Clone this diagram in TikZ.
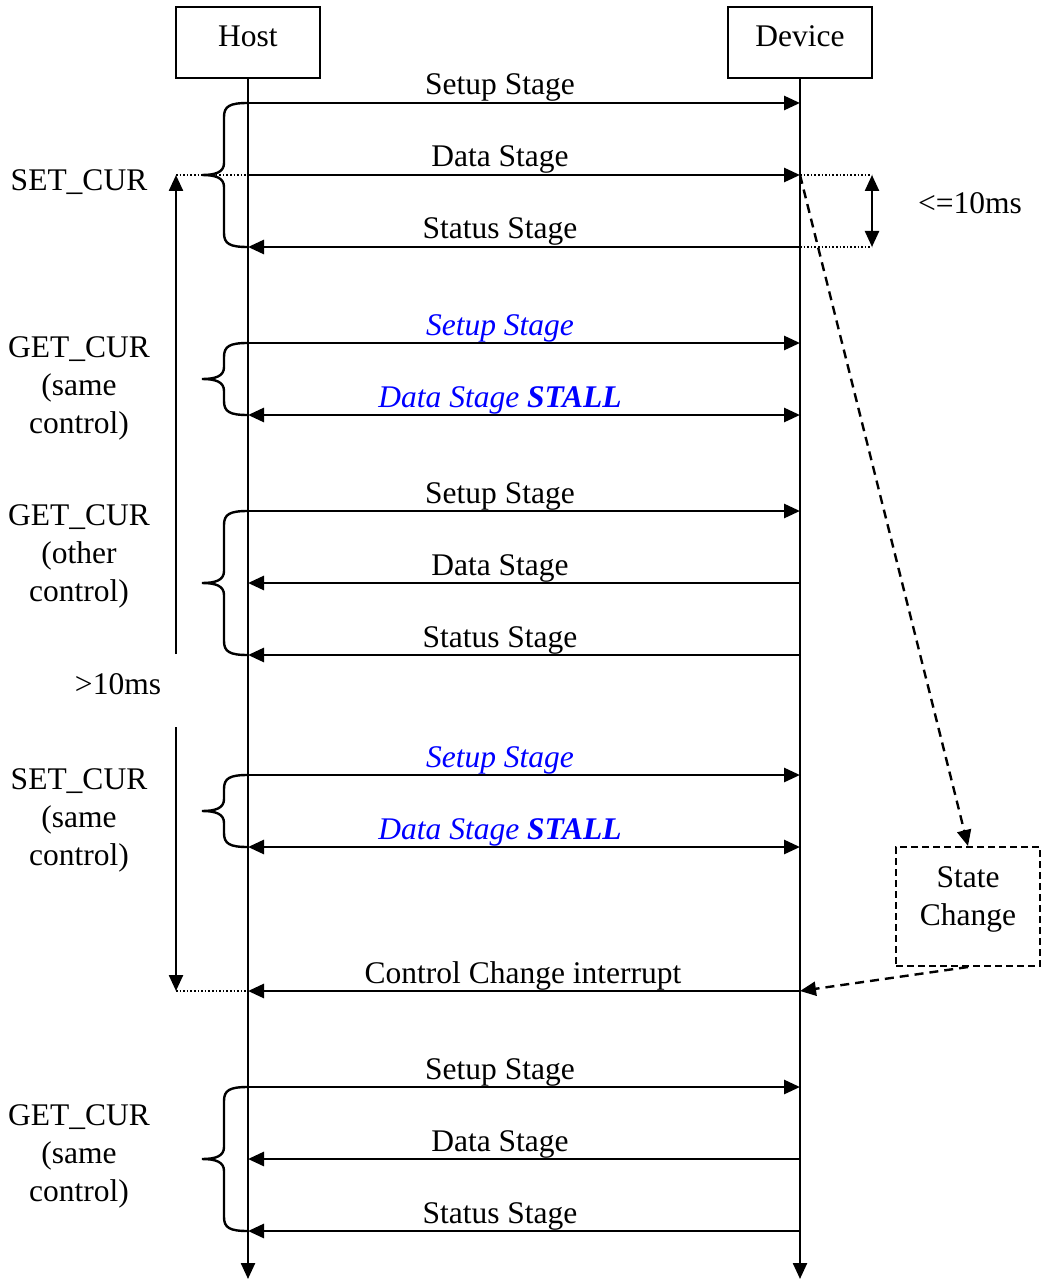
\documentclass[tikz,border=0pt]{standalone}
\usepackage{fontspec}
\setmainfont{Liberation Serif}
\usetikzlibrary{arrows.meta}
\begin{document}
\begin{tikzpicture}[x=1pt,y=-1pt,
  every node/.style={font=\fontsize{31.5}{38}\selectfont, inner sep=0pt},
  tri/.tip={Triangle[length=16pt,width=14pt]},
  msgr/.style={line width=2.8pt, -tri},
  msgl/.style={line width=2.8pt, tri-},
  msgb/.style={line width=2.8pt, tri-tri},
  life/.style={line width=2.4pt, -tri},
  actor/.style={draw, line width=2pt, minimum width=144pt, minimum height=71pt},
  lbl/.style={anchor=base},
  blue lbl/.style={anchor=base, text=blue, font=\fontsize{31.5}{38}\selectfont\itshape},
  brace/.style={line width=2.4pt},
  dotline/.style={line width=1.6pt, dotted},
  dashline/.style={line width=2.4pt, dash pattern=on 9pt off 6pt, -tri},
  side/.style={align=center, anchor=base}
]
\useasboundingbox (0,0) rectangle (1044,1281);

% actors
\node[actor] (host) at (248,42.5) {};
\node[lbl] (hostt) at (248,47) {Host};
\node[actor] (device) at (800,42.5) {};
\node[lbl] (devicet) at (800,47) {Device};
\coordinate (hostend) at (248,1279);
\coordinate (devend) at (800,1279);
\draw[life] (host.south) -- (hostend);
\draw[life] (device.south) -- (devend);

% message coordinates
\foreach \i/\y in {1/103,2/175,3/247,4/343,5/415,6/511,7/583,8/655,9/775,10/847,11/991,12/1087,13/1159,14/1231}{
  \coordinate (h\i) at (248,\y);
  \coordinate (d\i) at (800,\y);
}

% messages
\draw[msgr] (h1) -- (d1);
\node[lbl] (l1) at (500,95) {Setup Stage};
\draw[msgr] (h2) -- (d2);
\node[lbl] (l2) at (500,167) {Data Stage};
\draw[msgl] (h3) -- (d3);
\node[lbl] (l3) at (500,239) {Status Stage};

\draw[msgr] (h4) -- (d4);
\node[blue lbl] (l4) at (500,335) {Setup Stage};
\draw[msgb] (h5) -- (d5);
\node[blue lbl] (l5) at (500,407) {Data Stage \textbf{STALL}};

\draw[msgr] (h6) -- (d6);
\node[lbl] (l6) at (500,503) {Setup Stage};
\draw[msgl] (h7) -- (d7);
\node[lbl] (l7) at (500,575) {Data Stage};
\draw[msgl] (h8) -- (d8);
\node[lbl] (l8) at (500,647) {Status Stage};

\draw[msgr] (h9) -- (d9);
\node[blue lbl] (l9) at (500,767) {Setup Stage};
\draw[msgb] (h10) -- (d10);
\node[blue lbl] (l10) at (500,839) {Data Stage \textbf{STALL}};

\draw[msgl] (h11) -- (d11);
\node[lbl] (l11) at (523,983) {Control Change interrupt};

\draw[msgr] (h12) -- (d12);
\node[lbl] (l12) at (500,1079) {Setup Stage};
\draw[msgl] (h13) -- (d13);
\node[lbl] (l13) at (500,1151) {Data Stage};
\draw[msgl] (h14) -- (d14);
\node[lbl] (l14) at (500,1223) {Status Stage};

% braces
\foreach \a/\b in {103/247,343/415,511/655,775/847,1087/1231}{
  \pgfmathsetmacro{\m}{(\a+\b)/2}
  \draw[brace] (248,\a) .. controls (230,\a) and (224,\a+3) .. (224,\a+14)
    -- (224,\m-12) .. controls (224,\m-3) and (216,\m) .. (202,\m)
    .. controls (216,\m) and (224,\m+3) .. (224,\m+12)
    -- (224,\b-14) .. controls (224,\b-3) and (230,\b) .. (248,\b);
}

% side labels (anchor base = last line's baseline)
\node[side] (s1) at (79,191) {SET\_CUR};
\node[side] (s2) at (79,433) {GET\_CUR\\(same\\control)};
\node[side] (s3) at (79,601) {GET\_CUR\\(other\\control)};
\node[side] (s4) at (79,865) {SET\_CUR\\(same\\control)};
\node[side] (s5) at (79,1201) {GET\_CUR\\(same\\control)};

% >10ms timing
\coordinate (t1) at (176,175);
\coordinate (t2) at (176,654);
\coordinate (t3) at (176,727);
\coordinate (t4) at (176,991);
\draw[line width=2.4pt, -tri] (t2) -- (t1);
\draw[line width=2.4pt, -tri] (t3) -- (t4);
\node[lbl] (gt) at (118,694) {>10ms};
\draw[dotline] (t1) -- (h2);
\draw[dotline] (t4) -- (h11);

% <=10ms timing
\coordinate (r1) at (872,175);
\coordinate (r2) at (872,247);
\draw[dotline] (d2) -- (r1);
\draw[dotline] (d3) -- (r2);
\draw[line width=2.4pt, tri-tri] (r1) -- (r2);
\node[lbl] (le) at (970,214) {<=10ms};

% state change
\node[draw, line width=2pt, dash pattern=on 7pt off 4pt, minimum width=144pt, minimum height=119pt] (state) at (968,906.5) {};
\node[side] (statet) at (968,925) {State\\Change};
\draw[dashline] (d2) -- (state.north);
\draw[dashline] (state.south) -- (d11);
\end{tikzpicture}
\end{document}
